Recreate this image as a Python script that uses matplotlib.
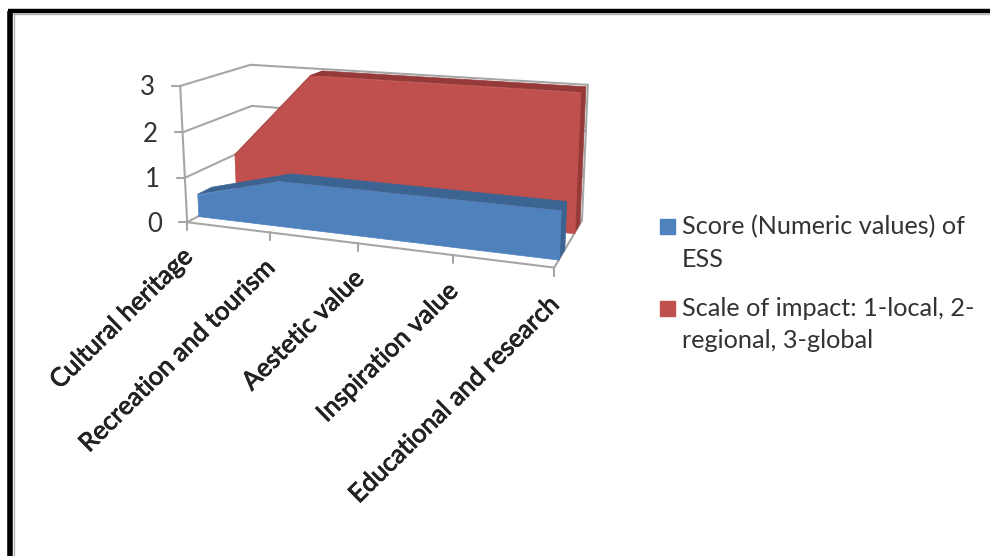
import numpy as np
import matplotlib
matplotlib.use("Agg")
import matplotlib.pyplot as plt
import matplotlib.patheffects as pe
from matplotlib.patches import Rectangle
from matplotlib.transforms import Transform, IdentityTransform

plt.rcParams['font.family'] = ['Lato', 'DejaVu Sans']

categories = ["Cultural heritage", "Recreation and tourism", "Aestetic value",
              "Inspiration value", "Educational and research"]
score = [0.5, 1, 1, 1, 1]
impact = [1, 3, 3, 3, 3]
y_ticks = [0, 1, 2, 3]
legend_labels = ["Score (Numeric values) of\nESS",
                 "Scale of impact: 1-local, 2-\nregional, 3-global"]
colors = ['#4F81BD', '#C0504D']

W, H = 990, 556
px = IdentityTransform()

# where the corners of the 3d box sit in the picture: (category, value, depth) -> pixel
anchors = [((0, 0, 0), (187, 223)), ((4, 0, 0), (554, 268)),
           ((0, 1, 0), (185, 177)), ((0, 2, 0), (183, 132)),
           ((0, 3, 0), (180, 86)), ((0, 2, 1), (252, 106)),
           ((0, 3, 1), (250, 65)), ((4, 3, 1), (588, 85)),
           ((4, 0, 1), (582, 220))]

# camera matrix from the anchors
rows, rhs = [], []
for (a, b, c), (u, v) in anchors:
    rows.append([a, b, c, 1, 0, 0, 0, 0, -u*a, -u*b, -u*c])
    rhs.append(u)
    rows.append([0, 0, 0, 0, a, b, c, 1, -v*a, -v*b, -v*c])
    rhs.append(v)
p = np.linalg.lstsq(np.array(rows, float), np.array(rhs, float), rcond=None)[0]
cam = np.append(p, 1).reshape(3, 4)


class Depth(Transform):
    # (category, value) at a fixed depth -> display pixels
    input_dims = 2
    output_dims = 2

    def __init__(self, z):
        super().__init__()
        self.z = z

    def transform_non_affine(self, values):
        v = np.asarray(values, float)
        world = np.column_stack([v[:, 0], v[:, 1], np.full(len(v), self.z), np.ones(len(v))])
        out = world @ cam.T
        return np.column_stack([out[:, 0] / out[:, 2], H - out[:, 1] / out[:, 2]])


def depth_line(ax, x, y, d0, d1, **kw):
    # a line going from front to back
    a = Depth(d0).transform((x, y))
    b = Depth(d1).transform((x, y))
    ax.plot([a[0], b[0]], [a[1], b[1]], transform=px, **kw)


def area_3d(ax, values, front, back, face, dark):
    xs = np.arange(len(values))
    vals = np.array(values, float)
    # top strips and right end, then the front face
    for i in range(len(xs) - 1):
        pts = np.vstack([Depth(front).transform([(xs[i], vals[i]), (xs[i+1], vals[i+1])]),
                         Depth(back).transform([(xs[i+1], vals[i+1]), (xs[i], vals[i])])])
        ax.fill(pts[:, 0], pts[:, 1], color=dark, lw=0.5, transform=px, zorder=3)
    pts = np.vstack([Depth(front).transform([(xs[-1], 0), (xs[-1], vals[-1])]),
                     Depth(back).transform([(xs[-1], vals[-1]), (xs[-1], 0)])])
    ax.fill(pts[:, 0], pts[:, 1], color=dark, lw=0.5, transform=px, zorder=3)
    ax.fill_between(xs, 0, vals, color=face, lw=0.5, transform=Depth(front), zorder=3)


fig = plt.figure(figsize=(W / 100, H / 100), dpi=100)
ax = fig.add_axes([0, 0, 1, 1])
ax.set_xlim(0, W)
ax.set_ylim(0, H)
ax.axis('off')

grid = dict(color='#a6a6a6', lw=1.5, solid_capstyle='round', zorder=1)

# walls
for v in y_ticks:
    ax.plot([0, 4], [v, v], transform=Depth(1), **grid)
    depth_line(ax, 0, v, 0, 1, **grid)
    a = Depth(0).transform((0, v))
    ax.plot([a[0] - 8, a[0]], [a[1], a[1]], transform=px, **grid)
    ax.text(a[0] - 25, a[1] - 2, str(v), ha='right', va='center', fontsize=18.5, color='#333333', transform=px)
ax.plot([0, 0], [0, 3], transform=Depth(0), **grid)
ax.plot([4, 4], [0, 3], transform=Depth(1), **grid)
depth_line(ax, 4, 0, 0, 1, **grid)

# floor
ax.plot([0, 4], [0, 0], transform=Depth(0), **grid)
ax.plot([0, 4], [0, 0], transform=Depth(1), **grid)
for i, name in enumerate(categories):
    a = Depth(0).transform((i, 0))
    ax.plot([a[0], a[0]], [a[1], a[1] - 8], transform=px, **grid)
    ax.text(a[0] + 2, a[1] - 30 - 0.5 * i, name, rotation=44.5, ha='right', va='center', rotation_mode='anchor',
            fontsize=18.5, color='#222222', transform=px,
            path_effects=[pe.withStroke(linewidth=0.6, foreground='#222222')])

area_3d(ax, impact, 0.70, 0.92, colors[1], '#953A38')
area_3d(ax, score, 0.15, 0.35, colors[0], '#3C6492')

# legend, swatch lines up with the first row of its text
for label, color, top in zip(legend_labels, colors, [226, 308]):
    ax.add_patch(Rectangle((660, H - top - 8), 15, 15, color=color, transform=px))
    ax.text(682, H - top + 11, label, ha='left', va='top', fontsize=18.2, linespacing=1.5,
            color='#333333', transform=px)

# black frame, only top and left edges show
ax.plot([13.5, 13.5], [0, H - 13], color='#b0b0b0', lw=1, transform=px, solid_capstyle='butt')
ax.plot([13, W], [H - 14, H - 14], color='#b0b0b0', lw=1, transform=px, solid_capstyle='butt')
ax.plot([10, 10], [0, H - 11], color='black', lw=4, transform=px, solid_capstyle='butt')
ax.plot([8, W], [H - 11, H - 11], color='black', lw=3.2, transform=px, solid_capstyle='butt')

fig.savefig("out.png", dpi=100)
